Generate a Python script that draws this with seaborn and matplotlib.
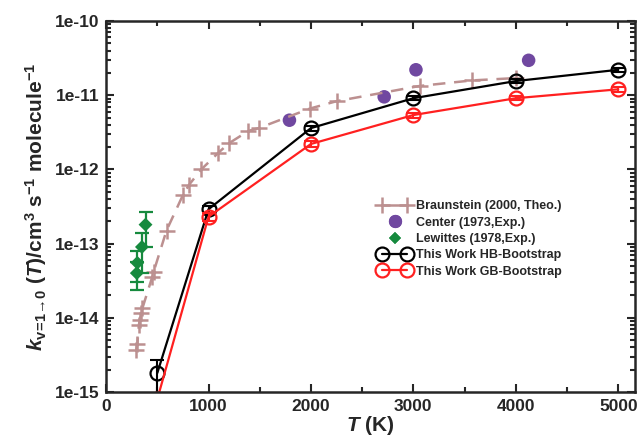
import matplotlib
matplotlib.use("Agg")
import matplotlib.pyplot as plt
import seaborn as sns
import numpy as np
from matplotlib.lines import Line2D
from matplotlib.ticker import FixedLocator, FuncFormatter, MultipleLocator, LogLocator, NullFormatter

# ---------------- data ----------------
bt_T = [295, 305, 320, 330, 345, 355, 452, 465, 590, 750, 810, 930, 1095,
        1200, 1390, 1490, 1990, 2250, 3060, 3570, 4000]
bt_k = [3.7e-15, 4.4e-15, 8.0e-15, 9.3e-15, 1.16e-14, 1.35e-14, 3.6e-14,
        4.2e-14, 1.5e-13, 4.5e-13, 6.2e-13, 1.0e-12, 1.67e-12, 2.25e-12,
        3.3e-12, 3.6e-12, 6.6e-12, 8.3e-12, 1.33e-11, 1.58e-11, 1.7e-11]

center_T = [1790, 2715, 3025, 4125]
center_k = [4.6e-12, 9.5e-12, 2.2e-11, 2.95e-11]

lew_T = [300, 305, 350, 385]
lew_k = [4.0e-14, 5.5e-14, 9.0e-14, 1.8e-13]
lew_err = [1.6e-14, 2.5e-14, 5.0e-14, 0.9e-13]

hb_T = [500, 1000, 2000, 3000, 4000, 5000]
hb_k = [1.8e-15, 2.9e-13, 3.6e-12, 9.1e-12, 1.55e-11, 2.2e-11]
hb_err = [0.9e-15, 0.3e-13, 0.3e-12, 0.6e-12, 1.0e-12, 1.2e-12]

gb_T = [500, 1000, 2000, 3000, 4000, 5000]
gb_k = [8.0e-16, 2.3e-13, 2.2e-12, 5.4e-12, 9.1e-12, 1.2e-11]
gb_err = [0.3e-16, 0.3e-13, 0.2e-12, 0.4e-12, 0.6e-12, 0.9e-12]

labels = ["Braunstein (2000, Theo.)", "Center (1973,Exp.)", "Lewittes (1978,Exp.)",
          "This Work HB-Bootstrap", "This Work GB-Bootstrap"]
ytick_vals = [1e-15, 1e-14, 1e-13, 1e-12, 1e-11, 1e-10]

# ---------------- style ----------------
sns.set_style("ticks")
plt.rcParams['font.family'] = ['Liberation Sans', 'DejaVu Sans']
plt.rcParams['font.weight'] = 'bold'
plt.rcParams['mathtext.fontset'] = 'custom'
plt.rcParams['mathtext.rm'] = 'Liberation Sans:bold'
plt.rcParams['mathtext.it'] = 'Liberation Sans:bold:italic'
plt.rcParams['mathtext.bf'] = 'Liberation Sans:bold'

c_bt = "#bc9090"
c_center = "#7048a0"
c_lew = "#168a3e"
c_hb = "black"
c_gb = "#ff2020"

fig = plt.figure(figsize=(6.39, 4.37), dpi=100)
ax = fig.add_axes([0.166, 0.103, 0.828, 0.849])

# Braunstein
sns.lineplot(x=bt_T, y=bt_k, ax=ax, color=c_bt, linewidth=1.8, sort=False,
             linestyle=(0, (5, 3.5)), marker='+', markersize=11,
             markeredgewidth=1.8, markeredgecolor=c_bt)

# Center
sns.scatterplot(x=center_T, y=center_k, ax=ax, color=c_center, s=95, edgecolor='none')

# Lewittes
ax.errorbar(lew_T, lew_k, yerr=lew_err, fmt='none', ecolor=c_lew, elinewidth=1.6,
            capsize=5, capthick=1.6)
sns.scatterplot(x=lew_T, y=lew_k, ax=ax, color=c_lew, marker='D', s=50, edgecolor='none')

# This work
for T, k, e, c in [(hb_T, hb_k, hb_err, c_hb), (gb_T, gb_k, gb_err, c_gb)]:
    ax.errorbar(T, k, yerr=e, fmt='none', ecolor=c, elinewidth=1.5, capsize=5, capthick=1.5)
    sns.lineplot(x=T, y=k, ax=ax, color=c, linewidth=1.6, marker='o', markersize=10,
                 markerfacecolor='none', markeredgecolor=c, markeredgewidth=1.6)

ax.set_yscale('log')
ax.set_xlim(0, 5165)
ax.set_ylim(1e-15, 1e-10)

ax.xaxis.set_major_locator(MultipleLocator(1000))
ax.xaxis.set_minor_locator(MultipleLocator(500))
ax.yaxis.set_major_locator(FixedLocator(ytick_vals))
ax.yaxis.set_major_formatter(FuncFormatter(lambda v, p: "1e%d" % int(round(np.log10(v)))))
ax.yaxis.set_minor_locator(LogLocator(base=10, subs=np.arange(2, 10)))
ax.yaxis.set_minor_formatter(NullFormatter())

ax.tick_params(which='both', direction='in', top=True, right=True, width=1.5)
ax.tick_params(which='major', length=6, labelsize=12.5, pad=5)
ax.tick_params(which='minor', length=3.5)
for lab in ax.get_xticklabels() + ax.get_yticklabels():
    lab.set_fontweight('bold')
for sp in ax.spines.values():
    sp.set_linewidth(1.8)
    sp.set_visible(True)

ax.set_xlabel(r"$T$ (K)", fontsize=15, fontweight='bold', labelpad=0)
ax.set_ylabel(r"$k_{\mathrm{v\!=\!1\!\rightarrow\!0}}$ $(T)$/cm$^{3}$ s$^{-1}$ molecule$^{-1}$",
              fontsize=15, fontweight='bold', labelpad=4)

handles = [
    Line2D([], [], color=c_bt, linewidth=1.8, marker='+', markersize=11, markeredgewidth=1.8),
    Line2D([], [], color=c_center, linestyle='none', marker='o', markersize=9.5, markeredgewidth=0),
    Line2D([], [], color=c_lew, linestyle='none', marker='D', markersize=6.5, markeredgewidth=0),
    Line2D([], [], color=c_hb, linewidth=1.6, marker='o', markersize=10,
           markerfacecolor='none', markeredgewidth=1.6),
    Line2D([], [], color=c_gb, linewidth=1.6, marker='o', markersize=10,
           markerfacecolor='none', markeredgewidth=1.6),
]
leg = ax.legend(handles, labels, loc='upper left', bbox_to_anchor=(0.505, 0.53),
                frameon=False, fontsize=9, numpoints=2, handlelength=2.6,
                handletextpad=0.45, labelspacing=0.35, borderaxespad=0)
for t in leg.get_texts():
    t.set_fontweight('bold')
# single marker for scatter-like entries
for h in leg.legend_handles[1:3]:
    xd = h.get_xdata()
    if len(xd) == 2:
        m = np.mean(xd)
        h.set_xdata([m, m])

fig.savefig("out.png", dpi=100)
